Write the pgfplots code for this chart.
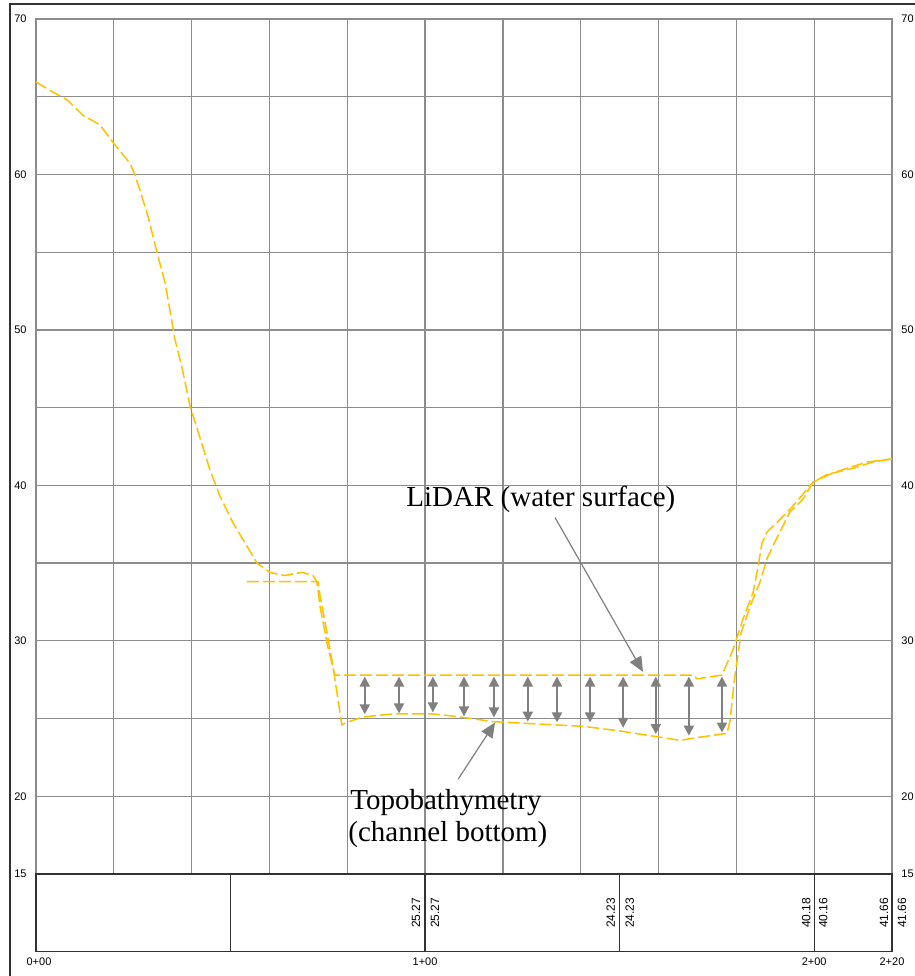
\documentclass[border=0pt]{standalone}
\usepackage{pgfplots}
\pgfplotsset{compat=1.18}
\usepackage{fontspec}
\setmainfont{Liberation Serif}
\newfontfamily\labfont{Liberation Sans}
\usetikzlibrary{arrows.meta}
\definecolor{yel}{RGB}{255,192,0}
\definecolor{gridc}{RGB}{140,140,140}
\definecolor{arrc}{RGB}{128,128,128}
\definecolor{dark}{RGB}{50,50,50}
\tikzset{
  lab/.style={inner sep=0pt, font=\labfont\fontsize{5.5}{6}\selectfont},
  tv/.style={rotate=90, inner sep=0pt, font=\labfont\fontsize{6}{7}\selectfont},
  anno/.style={anchor=base west, inner sep=0pt, font=\fontsize{14.5}{16}\selectfont},
  depth/.style={arrc, line width=1pt,
    {Triangle[width=5pt,length=5pt]}-{Triangle[width=5pt,length=5pt]}},
}
\begin{document}
\begin{tikzpicture}
\useasboundingbox (-18pt,-51pt) rectangle (439.5pt,437pt);
\begin{axis}[
  at={(0,0)}, anchor=south west,
  scale only axis, width=428pt, height=427.5pt,
  xmin=0, xmax=220, ymin=15, ymax=70,
  clip=false,
  xtick={0,20,...,220}, ytick={15,20,...,70},
  xticklabels={}, yticklabels={},
  major tick length=0pt,
  grid=major,
  major grid style={gridc, line width=0.6pt},
  axis line style={gridc, line width=0.6pt},
]
% table below the profile
\draw[dark, line width=0.6pt] (axis cs:0,10) rectangle (axis cs:220,15);
\draw[dark, line width=0.6pt] (axis cs:50,10) -- (axis cs:50,15);
\draw[dark, line width=0.6pt] (axis cs:100,10) -- (axis cs:100,15);
\draw[dark, line width=0.6pt] (axis cs:150,10) -- (axis cs:150,15);
\draw[dark, line width=0.6pt] (axis cs:200,10) -- (axis cs:200,15);

% LiDAR profile
\addplot[yel, line width=0.75pt, dash pattern=on 6pt off 2pt, no markers] coordinates {
(0,65.95) (3.6,65.4) (8,64.8) (12.1,63.8) (16.4,63.2) (20.3,61.9) (24.2,60.7) (25.4,60.0)
(27.2,58.6) (28.8,57.3) (30.1,56.0) (31.4,54.7) (33.2,53.0) (34.4,51.3) (35.7,49.4)
(37.5,47.6) (39.6,45.1) (42.1,43.1) (44.7,41.0) (47.3,39.3) (50.6,37.6) (54.2,36.1)
(56.8,35.0) (60.1,34.4) (63.9,34.2) (66,34.3) (68.4,34.4) (71.2,34.2) (72.2,33.8)
(73,32.2) (75,29.6) (76.8,27.8) (168.9,27.8) (169.9,27.55) (176.3,27.8) (179.1,29.4)
(181.7,31.4) (184.3,33.1) (185.6,34.8) (186.6,36.3) (187.9,37.0) (191.2,37.8)
(194.3,38.6) (199.7,40.2) (204.8,40.8) (208.4,41.1) (213.6,41.5) (220,41.7)
};
% Topobathymetry profile
\addplot[yel, line width=0.75pt, dash pattern=on 6pt off 2pt, no markers] coordinates {
(54.2,33.8) (72.5,33.8) (73,32.9) (74.8,30.5) (76.3,28.4) (78.6,24.6) (79.9,24.75)
(84,25.1) (91.8,25.3) (98.7,25.3) (102,25.3) (109,25.1) (117.5,24.8) (132.9,24.6)
(140.6,24.5) (150.1,24.2) (160.4,23.8) (165.5,23.6) (170.6,23.8) (177.6,24.05)
(178.4,24.9) (179.5,27.5) (181.2,30.5) (183.5,32.2) (186.1,33.8) (187.9,35.3)
(189.4,36.1) (193.8,38.3) (197.1,39.1) (199.7,40.2) (203.3,40.7) (210,41.1)
(215.1,41.5) (220,41.7)
};

% depth arrows
\addplot[depth, no markers] coordinates {(84.5,27.7) (84.5,25.27)};
\addplot[depth, no markers] coordinates {(93.3,27.7) (93.3,25.33)};
\addplot[depth, no markers] coordinates {(102,27.7) (102,25.4)};
\addplot[depth, no markers] coordinates {(110,27.7) (110,25.14)};
\addplot[depth, no markers] coordinates {(117.7,27.7) (117.7,25.07)};
\addplot[depth, no markers] coordinates {(126.4,27.7) (126.4,24.8)};
\addplot[depth, no markers] coordinates {(133.9,27.7) (133.9,24.75)};
\addplot[depth, no markers] coordinates {(142.4,27.7) (142.4,24.75)};
\addplot[depth, no markers] coordinates {(150.9,27.7) (150.9,24.4)};
\addplot[depth, no markers] coordinates {(159.3,27.7) (159.3,24.0)};
\addplot[depth, no markers] coordinates {(167.8,27.7) (167.8,23.9)};
\addplot[depth, no markers] coordinates {(176.3,27.7) (176.3,24.1)};

% annotations
\draw[arrc, line width=0.6pt, -{Triangle[width=6.5pt,length=7.5pt]}] (axis cs:133.4,37.93) -- (axis cs:156,28.0);
\draw[arrc, line width=0.6pt, -{Triangle[width=6.5pt,length=7.5pt]}] (axis cs:108.5,21.1) -- (axis cs:118,24.75);
\node[anno] at (axis cs:95.1,38.64) {LiDAR (water surface)};
\node[anno] at (axis cs:80.7,19.17) {Topobathymetry};
\node[anno] at (axis cs:80.2,17.11) {(channel bottom)};

% elevation labels
\node[lab, anchor=east] at ([xshift=-4.5pt]axis cs:0,70) {70};
\node[lab, anchor=east] at ([xshift=-4.5pt]axis cs:0,60) {60};
\node[lab, anchor=east] at ([xshift=-4.5pt]axis cs:0,50) {50};
\node[lab, anchor=east] at ([xshift=-4.5pt]axis cs:0,40) {40};
\node[lab, anchor=east] at ([xshift=-4.5pt]axis cs:0,30) {30};
\node[lab, anchor=east] at ([xshift=-4.5pt]axis cs:0,20) {20};
\node[lab, anchor=east] at ([xshift=-4.5pt]axis cs:0,15) {15};
\node[lab, anchor=west] at ([xshift=4.5pt]axis cs:220,70) {70};
\node[lab, anchor=west] at ([xshift=4.5pt]axis cs:220,60) {60};
\node[lab, anchor=west] at ([xshift=4.5pt]axis cs:220,50) {50};
\node[lab, anchor=west] at ([xshift=4.5pt]axis cs:220,40) {40};
\node[lab, anchor=west] at ([xshift=4.5pt]axis cs:220,30) {30};
\node[lab, anchor=west] at ([xshift=4.5pt]axis cs:220,20) {20};
\node[lab, anchor=west] at ([xshift=4.5pt]axis cs:220,15) {15};
% station labels
\node[lab] at ([xshift=1.5pt,yshift=-5pt]axis cs:0,10) {0+00};
\node[lab] at ([yshift=-5pt]axis cs:100,10) {1+00};
\node[lab] at ([yshift=-5pt]axis cs:200,10) {2+00};
\node[lab] at ([yshift=-5pt]axis cs:220,10) {2+20};
% table values
\node[tv] at ([xshift=-4.5pt]axis cs:100,12.5) {25.27};
\node[tv] at ([xshift=5pt]axis cs:100,12.5) {25.27};
\node[tv] at ([xshift=-4.5pt]axis cs:150,12.5) {24.23};
\node[tv] at ([xshift=5pt]axis cs:150,12.5) {24.23};
\node[tv] at ([xshift=-4pt]axis cs:200,12.5) {40.18};
\node[tv] at ([xshift=4.5pt]axis cs:200,12.5) {40.16};
\node[tv] at ([xshift=-4pt]axis cs:220,12.5) {41.66};
\node[tv] at ([xshift=5pt]axis cs:220,12.5) {41.66};
\end{axis}
% outer frame
\draw[dark, line width=0.6pt] (-13pt,-51pt) -- (-13pt,435pt) -- (439.5pt,435pt);
\end{tikzpicture}
\end{document}
